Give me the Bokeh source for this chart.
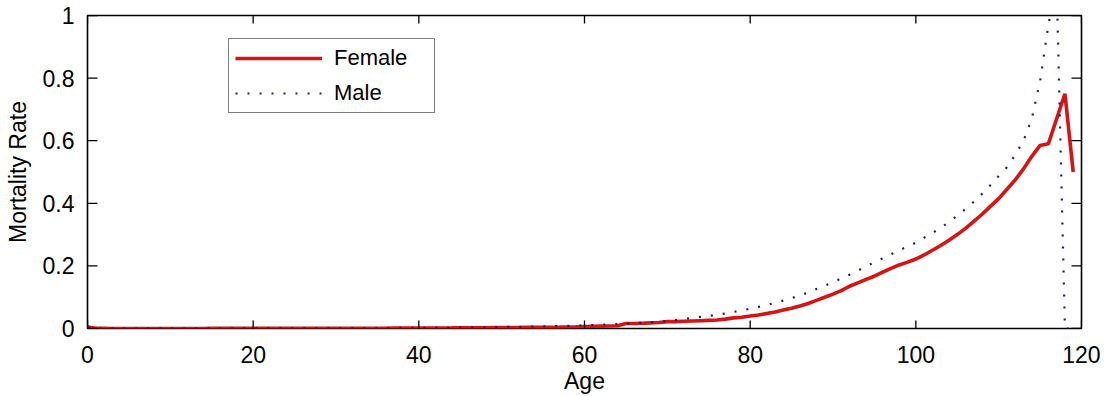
import math
from bokeh.plotting import figure
from bokeh.models import (Range1d, FixedTicker, NumeralTickFormatter,
                          Legend, LegendItem)
from bokeh.embed import file_html
from bokeh.resources import INLINE

ages = list(range(0, 120))

female = [
    0.0050, 0.0004, 0.0003, 0.0002, 0.0002, 0.0001, 0.0001, 0.0001, 0.0001, 0.0001,
    0.0001, 0.0001, 0.0001, 0.0002, 0.0002, 0.0003, 0.0003, 0.0004, 0.0004, 0.0004,
    0.0004, 0.0004, 0.0004, 0.0004, 0.0004, 0.0005, 0.0005, 0.0005, 0.0005, 0.0006,
    0.0006, 0.0007, 0.0007, 0.0008, 0.0008, 0.0009, 0.0010, 0.0011, 0.0012, 0.0013,
    0.0014, 0.0015, 0.0016, 0.0018, 0.0019, 0.0021, 0.0022, 0.0024, 0.0026, 0.0028,
    0.0030, 0.0032, 0.0034, 0.0036, 0.0038, 0.0040, 0.0042, 0.0045, 0.0050, 0.0055,
    0.0065, 0.0070, 0.0075, 0.0080, 0.0090, 0.0160, 0.0160, 0.0170, 0.0180, 0.0190,
    0.0220, 0.0220, 0.0230, 0.0240, 0.0250, 0.0260, 0.0270, 0.0300, 0.0340, 0.0360,
    0.0400, 0.0430, 0.0480, 0.0530, 0.0590, 0.0650, 0.0720, 0.0800, 0.0900, 0.1000,
    0.1100, 0.1210, 0.1350, 0.1460, 0.1570, 0.1670, 0.1800, 0.1920, 0.2030, 0.2120,
    0.2220, 0.2350, 0.2500, 0.2650, 0.2820, 0.3000, 0.3200, 0.3420, 0.3650, 0.3900,
    0.4150, 0.4450, 0.4750, 0.5100, 0.5500, 0.5850, 0.5900, 0.6700, 0.7500, 0.5000,
]

male = [
    0.0060, 0.0005, 0.0003, 0.0003, 0.0002, 0.0002, 0.0002, 0.0001, 0.0001, 0.0001,
    0.0001, 0.0001, 0.0002, 0.0002, 0.0003, 0.0004, 0.0006, 0.0007, 0.0008, 0.0009,
    0.0010, 0.0010, 0.0010, 0.0010, 0.0010, 0.0010, 0.0010, 0.0010, 0.0011, 0.0011,
    0.0012, 0.0012, 0.0013, 0.0013, 0.0014, 0.0015, 0.0016, 0.0017, 0.0018, 0.0020,
    0.0021, 0.0023, 0.0025, 0.0027, 0.0029, 0.0031, 0.0034, 0.0037, 0.0040, 0.0043,
    0.0046, 0.0050, 0.0054, 0.0058, 0.0062, 0.0067, 0.0072, 0.0078, 0.0084, 0.0090,
    0.0100, 0.0110, 0.0120, 0.0130, 0.0140, 0.0160, 0.0170, 0.0190, 0.0200, 0.0220,
    0.0240, 0.0270, 0.0300, 0.0340, 0.0370, 0.0400, 0.0440, 0.0480, 0.0530, 0.0580,
    0.0630, 0.0690, 0.0750, 0.0820, 0.0890, 0.0970, 0.1060, 0.1150, 0.1260, 0.1370,
    0.1480, 0.1600, 0.1720, 0.1850, 0.1980, 0.2120, 0.2240, 0.2370, 0.2500, 0.2620,
    0.2740, 0.2900, 0.3050, 0.3220, 0.3400, 0.3600, 0.3820, 0.4050, 0.4300, 0.4580,
    0.4870, 0.5150, 0.5550, 0.6000, 0.6700, 0.7900, 0.9700, 1.1000, 0.0000, 0.0000,
]

x_ticks = [0, 20, 40, 60, 80, 100, 120]
y_ticks = [0, 0.2, 0.4, 0.6, 0.8, 1.0]

FONT = "Liberation Sans"

p = figure(width=1100, height=396, x_range=Range1d(0, 120), y_range=Range1d(0, 1),
           output_backend="svg", toolbar_location=None,
           min_border_left=87, min_border_top=15, min_border_right=19,
           min_border_bottom=68)
p.background_fill_color = "white"
p.border_fill_color = "white"
p.grid.visible = False
p.outline_line_color = "black"
p.outline_line_width = 1.6

rf = p.line(ages, female, line_color="#d61414", line_width=3.6)
rm = p.line(ages, male, line_color="#1e1e78", line_width=2.2, line_dash="2 10")

# bottom axis
xa = p.xaxis[0]
xa.ticker = FixedTicker(ticks=x_ticks)
xa.axis_label = "Age"
xa.axis_label_text_font = FONT
xa.axis_label_text_font_size = "23px"
xa.axis_label_text_font_style = "normal"
xa.axis_label_standoff = 2
xa.major_label_text_font = FONT
xa.major_label_text_font_size = "23px"
xa.major_label_standoff = 11

# left axis
ya = p.yaxis[0]
ya.ticker = FixedTicker(ticks=y_ticks)
ya.formatter = NumeralTickFormatter(format="0.[0]")
ya.axis_label = "Mortality Rate"
ya.axis_label_text_font = FONT
ya.axis_label_text_font_size = "23px"
ya.axis_label_text_font_style = "normal"
ya.axis_label_standoff = 9
ya.major_label_text_font = FONT
ya.major_label_text_font_size = "23px"
ya.major_label_standoff = 7

for ax in (xa, ya):
    ax.axis_line_color = None
    ax.major_tick_line_color = None
    ax.minor_tick_line_color = None
    ax.major_label_text_color = "black"
    ax.axis_label_text_color = "black"

# inward tick marks on all four sides of the box (clipped to the frame)
n_x = len(x_ticks)
n_y = len(y_ticks)
x0, x1 = p.x_range.start, p.x_range.end
y0, y1 = p.y_range.start, p.y_range.end
p.scatter(x_ticks + x_ticks, [y0] * n_x + [y1] * n_x, marker="dash", size=16,
          angle=math.pi / 2, line_color="black", line_width=1.3)
p.scatter([x0] * n_y + [x1] * n_y, y_ticks + y_ticks, marker="dash", size=20,
          line_color="black", line_width=1.3)

legend = Legend(items=[LegendItem(label="Female", renderers=[rf]),
                       LegendItem(label="Male", renderers=[rm])],
                location=(141, 215))
legend.padding = 6
legend.margin = 0
legend.spacing = 9
legend.glyph_width = 87
legend.glyph_height = 22
legend.label_height = 22
legend.label_width = 94
legend.label_standoff = 12
legend.label_text_font = FONT
legend.label_text_font_size = "22px"
legend.label_text_color = "black"
legend.border_line_color = "black"
legend.border_line_width = 1.5
legend.background_fill_color = "white"
legend.background_fill_alpha = 1.0
p.add_layout(legend)

open("out.html", "w").write(file_html(p, INLINE))
